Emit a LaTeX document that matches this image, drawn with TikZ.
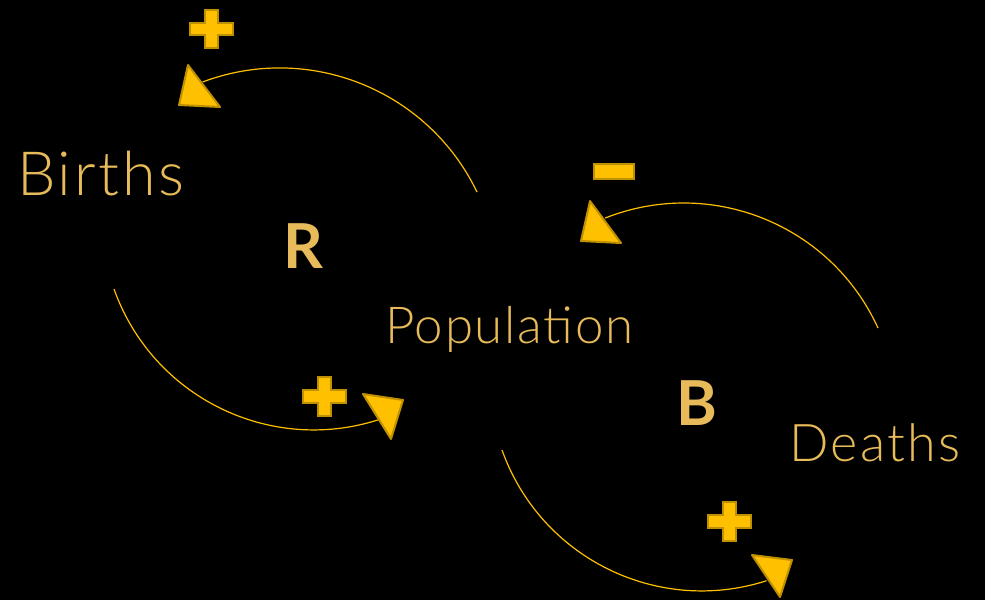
\documentclass[tikz,border=0pt]{standalone}
\usepackage{fontspec}
\setmainfont{Lato}[UprightFont={* Light},BoldFont={* Bold}]
\definecolor{txtgold}{HTML}{E8BB5A}
\definecolor{linkgold}{HTML}{FFC000}
\definecolor{edgegold}{HTML}{BF9000}
\tikzset{
  varlabel/.style={text=txtgold,inner sep=0pt,anchor=base west},
  looplabel/.style={text=txtgold,inner sep=0pt,anchor=base,font=\bfseries\fontsize{62}{62}\selectfont},
  link/.style={draw=linkgold,line width=1.2pt},
  headtri/.style={fill=linkgold,draw=edgegold,line width=2pt,line join=round},
  polsign/.style={fill=linkgold,draw=edgegold,line width=2pt}
}
\begin{document}
\begin{tikzpicture}[x=1pt,y=-1pt]
\fill[black] (0,0) rectangle (985,600);
\useasboundingbox (0,0) rectangle (985,600);
% variables
\node[varlabel,font=\fontsize{61}{61}\selectfont\addfontfeatures{LetterSpace=4.6}] (births) at (17,195) {Births};
\node[varlabel,font=\fontsize{51}{51}\selectfont\addfontfeatures{LetterSpace=3.4}] (pop) at (385,343) {Population};
\node[varlabel,font=\fontsize{52}{52}\selectfont\addfontfeatures{LetterSpace=4.4}] (deaths) at (789,461) {Deaths};
\node[looplabel] (loopR) at (303,268) {R};
\node[looplabel] (loopB) at (697,425) {B};
% arc endpoints
\coordinate (a1s) at (477,192);
\coordinate (a2s) at (878,328);
\coordinate (a3s) at (114,289);
\coordinate (a4s) at (502,450);
% links
\draw[link] (a1s) arc[start angle=-25.7,end angle=-110.6,radius=219] coordinate (a1e);
\draw[link] (a2s) arc[start angle=-24.5,end angle=-111.6,radius=213.5] coordinate (a2e);
\draw[link] (a3s) arc[start angle=160.4,end angle=72.2,radius=212] coordinate (a3e);
\draw[link] (a4s) arc[start angle=160.4,end angle=72.2,radius=212] coordinate (a4e);
% arrowheads
\filldraw[headtri] (188,65) -- (179,105) -- (220,107) -- cycle;
\filldraw[headtri] (590,201) -- (581,241) -- (621,243) -- cycle;
\filldraw[headtri] (363,394) -- (403,400) -- (391,439) -- cycle;
\filldraw[headtri] (752,555) -- (792,560) -- (780,597) -- cycle;
% polarity signs
\filldraw[polsign] (205,10) -- (218,10) -- (218,23) -- (233,23) -- (233,35) -- (218,35) -- (218,48) -- (205,48) -- (205,35) -- (190,35) -- (190,23) -- (205,23) -- cycle;
\filldraw[polsign] (594,164) rectangle (634,179);
\filldraw[polsign] (318,377) -- (331,377) -- (331,390) -- (346,390) -- (346,403) -- (331,403) -- (331,416) -- (318,416) -- (318,403) -- (303,403) -- (303,390) -- (318,390) -- cycle;
\filldraw[polsign] (723,502) -- (736,502) -- (736,515) -- (751,515) -- (751,528) -- (736,528) -- (736,541) -- (723,541) -- (723,528) -- (708,528) -- (708,515) -- (723,515) -- cycle;
\end{tikzpicture}
\end{document}
